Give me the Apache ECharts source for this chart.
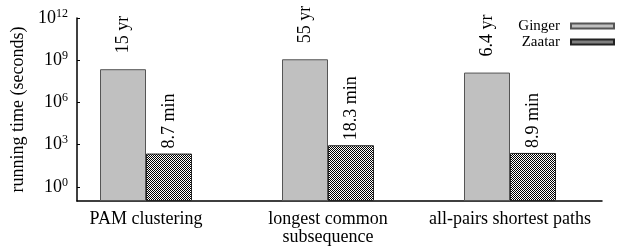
<!DOCTYPE html>
<html>
<head>
<meta charset="utf-8">
<title>running time</title>
<script src="https://cdn.jsdelivr.net/npm/echarts@6/dist/echarts.min.js"></script>
</head>
<body style="margin:0">
<div id="main" style="width:630px;height:252px;"></div>
<script>
// values (seconds, log scale)
var categories = ['PAM clustering', 'longest common\nsubsequence', 'all-pairs shortest paths'];
var gingerSeconds = [2.3e8, 1.17e9, 1.33e8];
var zaatarSeconds = [234, 915, 259];
var gingerLabels = ['15 yr', '55 yr', '6.4 yr'];
var zaatarLabels = ['8.7 min', '18.3 min', '8.9 min'];
var yTicks = [1, 1e3, 1e6, 1e9, 1e12];
var axisMin = 0.1;

var font = 'Liberation Serif';

// fine checker pattern for Zaatar
var pat = document.createElement('canvas');
pat.width = 2; pat.height = 2;
var ctx = pat.getContext('2d');
ctx.fillStyle = '#fff'; ctx.fillRect(0, 0, 2, 2);
ctx.fillStyle = '#000'; ctx.fillRect(0, 0, 1, 1); ctx.fillRect(1, 1, 1, 1);

// bars on a log axis start at 1, so stack them on an invisible base down to the axis min
var baseData = categories.map(function () { return axisMin; });

var myChart = echarts.init(document.getElementById('main'));

var option = {
  animation: false,
  textStyle: { fontFamily: font, color: '#000' },
  legend: {
    data: ['Ginger', 'Zaatar'],
    orient: 'vertical',
    right: 10,
    top: 13,
    align: 'right',
    icon: 'rect',
    itemWidth: 43,
    itemHeight: 5,
    itemGap: 0,
    textStyle: { fontFamily: font, fontSize: 15, lineHeight: 16, color: '#000', padding: [0, 6, 0, 0] }
  },
  grid: [
    { left: 55, right: 29, top: 18, bottom: 51 },
    { left: 77, right: 28, top: 18, bottom: 51 }
  ],
  xAxis: [
    {
      type: 'category',
      gridIndex: 0,
      data: categories,
      axisLine: { show: false },
      axisTick: { show: false },
      axisLabel: { interval: 0, fontFamily: font, fontSize: 18, lineHeight: 18, color: '#000', margin: 9 }
    },
    {
      type: 'value',
      gridIndex: 1,
      min: 0, max: 1,
      axisLine: { show: true, onZero: false, lineStyle: { color: '#000', width: 1.5 } },
      axisTick: { show: false },
      axisLabel: { show: false },
      splitLine: { show: false }
    }
  ],
  yAxis: [
    {
      type: 'log',
      gridIndex: 0,
      logBase: 10,
      min: axisMin,
      max: 1e12,
      offset: -22,
      name: 'running time (seconds)',
      nameLocation: 'middle',
      nameRotate: 90,
      nameGap: 39,
      nameTextStyle: { fontFamily: font, fontSize: 18, color: '#000' },
      axisLine: { show: true, lineStyle: { color: '#000', width: 1.5 } },
      axisTick: { show: true, inside: true, length: 3, customValues: yTicks, lineStyle: { color: '#000' } },
      splitLine: { show: false },
      minorTick: { show: false },
      axisLabel: {
        customValues: yTicks,
        margin: 9,
        formatter: function (v) {
          var e = Math.round(Math.log(v) / Math.LN10);
          return '{b|10}{e|' + e + '}';
        },
        rich: {
          b: { fontFamily: font, fontSize: 18, color: '#000' },
          e: { fontFamily: font, fontSize: 12, color: '#000', padding: [0, 0, 9, 0] }
        }
      }
    },
    { type: 'value', gridIndex: 1, show: false }
  ],
  series: [
    {
      name: 'gBase', type: 'bar', stack: 'g', data: baseData,
      barWidth: 46, barGap: '0%', silent: true,
      itemStyle: { color: 'rgba(0,0,0,0)' }
    },
    {
      name: 'Ginger',
      type: 'bar',
      stack: 'g',
      data: gingerSeconds,
      barWidth: 46,
      barGap: '0%',
      itemStyle: { color: '#c0c0c0', borderColor: '#555', borderWidth: 1 },
      label: {
        show: true, position: 'top', rotate: 90, align: 'left', verticalAlign: 'middle', distance: 16,
        fontFamily: font, fontSize: 18, color: '#000',
        formatter: function (p) { return gingerLabels[p.dataIndex]; }
      }
    },
    {
      name: 'zBase', type: 'bar', stack: 'z', data: baseData,
      barWidth: 46, barGap: '0%', silent: true,
      itemStyle: { color: 'rgba(0,0,0,0)' }
    },
    {
      name: 'Zaatar',
      type: 'bar',
      stack: 'z',
      data: zaatarSeconds,
      barWidth: 46,
      barGap: '0%',
      itemStyle: { color: { image: pat, repeat: 'repeat' }, borderColor: '#222', borderWidth: 1 },
      label: {
        show: true, position: 'top', rotate: 90, align: 'left', verticalAlign: 'middle', distance: 5,
        fontFamily: font, fontSize: 18, color: '#000',
        formatter: function (p) { return zaatarLabels[p.dataIndex]; }
      }
    }
  ]
};

myChart.setOption(option);
</script>
</body>
</html>
